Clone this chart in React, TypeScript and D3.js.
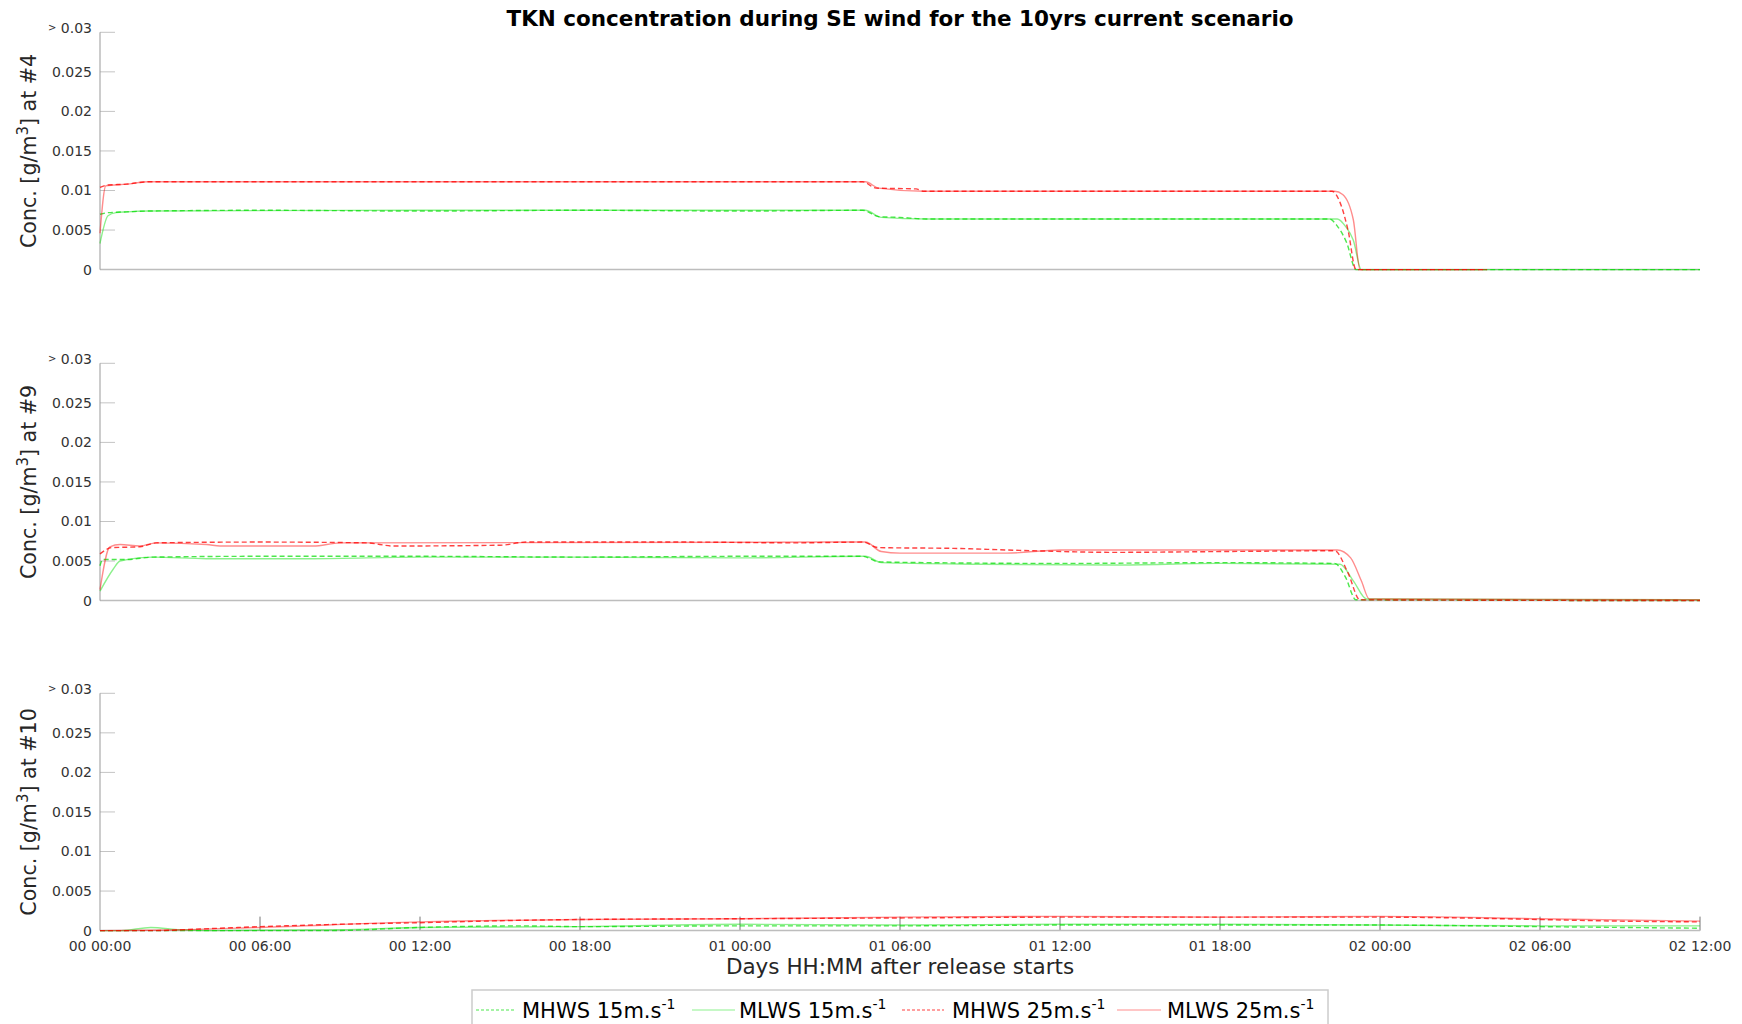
import { useEffect, useRef } from 'react';
import * as d3 from 'd3';

type Pt = [number, number]; // [hours after release, concentration g/m3]

// station labels for the three panels
const stations = ['#4', '#9', '#10'];

// series names + superscript wind speed unit
const seriesNames = ['MHWS 15m.s', 'MLWS 15m.s', 'MHWS 25m.s', 'MLWS 25m.s'];

const xTickHours = [0, 6, 12, 18, 24, 30, 36, 42, 48, 54, 60];
const xTickLabels = ['00 00:00', '00 06:00', '00 12:00', '00 18:00', '01 00:00', '01 06:00', '01 12:00', '01 18:00', '02 00:00', '02 06:00', '02 12:00'];
const yTicks = [0, 0.005, 0.01, 0.015, 0.02, 0.025, 0.03];
const yTickLabels = ['0', '0.005', '0.01', '0.015', '0.02', '0.025', '0.03'];

// ---- station #4 ----
const s4_mhws15: Pt[] = [[0, 0.0070], [0.3, 0.0072], [1, 0.0073], [1.8, 0.0074], [6, 0.0075], [12, 0.0074], [18, 0.0075], [24, 0.0074], [28.6, 0.0075], [29.2, 0.0067], [30, 0.0066], [31, 0.0064], [46.1, 0.0064], [46.4, 0.0055], [46.75, 0.0034], [47.1, 0], [60, 0]];
const s4_mlws15: Pt[] = [[0, 0.0033], [0.3, 0.0068], [0.6, 0.0072], [1, 0.0073], [1.8, 0.0074], [12, 0.0075], [28.7, 0.0075], [29.3, 0.0066], [31, 0.0064], [46.4, 0.0064], [46.7, 0.0055], [47.0, 0.0037], [47.3, 0], [60, 0]];
const s4_mhws25: Pt[] = [[0, 0.0104], [0.3, 0.0107], [1, 0.0108], [1.8, 0.0111], [12, 0.0111], [28.6, 0.0111], [29.1, 0.0103], [30.6, 0.0102], [30.9, 0.0099], [46.2, 0.0099], [46.5, 0.0085], [46.8, 0.005], [47.1, 0], [52, 0]];
const s4_mlws25: Pt[] = [[0, 0.0046], [0.22, 0.0106], [1, 0.0108], [1.8, 0.0111], [28.7, 0.0111], [29.2, 0.0103], [30.9, 0.0099], [46.3, 0.0099], [46.6, 0.0095], [47, 0.0063], [47.25, 0], [52, 0]];

// ---- station #9 ----
const s9_mhws15: Pt[] = [[0, 0.0044], [0.1, 0.0052], [1, 0.0052], [2, 0.0055], [6, 0.0056], [12, 0.0056], [18, 0.0055], [24, 0.0056], [28.6, 0.0056], [29.2, 0.0049], [31, 0.0048], [36, 0.0047], [42, 0.0048], [46.3, 0.0047], [46.7, 0.0030], [47.1, 0.0001], [60, 0]];
const s9_mlws15: Pt[] = [[0, 0.0012], [0.5, 0.004], [0.75, 0.005], [2, 0.0055], [4, 0.0053], [8, 0.0053], [12, 0.0055], [18, 0.0055], [24, 0.0054], [28.7, 0.0056], [29.3, 0.0048], [33, 0.0046], [38, 0.0045], [42, 0.0047], [46.5, 0.0046], [47, 0.0025], [47.5, 0.0002], [60, 0.0001]];
const s9_mhws25: Pt[] = [[0, 0.0059], [0.45, 0.0067], [1.5, 0.0068], [2.1, 0.0073], [6, 0.0074], [10, 0.0073], [11, 0.0069], [15, 0.0070], [16, 0.0074], [22, 0.0074], [26, 0.0073], [28.6, 0.0074], [29.2, 0.0067], [32, 0.0066], [35, 0.0063], [38, 0.0061], [42, 0.0062], [46.3, 0.0063], [46.8, 0.0035], [47.25, 0.0001], [60, 0]];
const s9_mlws25: Pt[] = [[0, 0.0014], [0.37, 0.0068], [0.75, 0.0071], [1.5, 0.0069], [2.1, 0.0073], [4, 0.0071], [4.5, 0.0069], [8, 0.0069], [9, 0.0073], [28.7, 0.0074], [29.3, 0.0062], [30, 0.006], [34, 0.006], [36, 0.0064], [46.4, 0.0064], [46.9, 0.0054], [47.3, 0.0025], [47.6, 0.0002], [60, 0.0001]];

// ---- station #10 ----
const s10_mhws15: Pt[] = [[0, 0], [8.6, 0], [12, 0.0004], [15.75, 0.0006], [18, 0.0005], [24, 0.0006], [30, 0.0006], [36, 0.0007], [42, 0.0007], [48, 0.0007], [54, 0.0005], [60, 0.0003]];
const s10_mlws15: Pt[] = [[0, 0], [0.8, 0], [1.9, 0.0004], [3, 0.0001], [4, 0], [9, 0.0001], [12, 0.0004], [18, 0.0005], [24, 0.0008], [30, 0.0007], [36, 0.0008], [42, 0.0008], [48, 0.0007], [54, 0.0006], [60, 0.0006]];
const s10_mhws25: Pt[] = [[0, 0], [2, 0], [3.75, 0.0002], [6, 0.0005], [9, 0.0008], [12, 0.001], [15.75, 0.0013], [18, 0.0014], [24, 0.0015], [30, 0.0016], [36, 0.0017], [42, 0.0017], [48, 0.0017], [51, 0.0016], [54, 0.0014], [57, 0.0012], [60, 0.0011]];
const s10_mlws25: Pt[] = [[0, 0], [3, 0.0001], [6, 0.0004], [12, 0.0011], [18, 0.0014], [24, 0.0015], [30, 0.0017], [36, 0.0018], [42, 0.0017], [48, 0.0018], [54, 0.0015], [60, 0.0012]];

const panels: Pt[][][] = [
  [s4_mhws15, s4_mlws15, s4_mhws25, s4_mlws25],
  [s9_mhws15, s9_mlws15, s9_mhws25, s9_mlws25],
  [s10_mhws15, s10_mlws15, s10_mhws25, s10_mlws25],
];

const styles = [
  { color: '#00dd00', opacity: 0.7, dash: '5,3' },
  { color: '#00dd00', opacity: 0.45, dash: null },
  { color: '#ff0000', opacity: 0.75, dash: '5,3' },
  { color: '#ff0000', opacity: 0.45, dash: null },
];

const WIDTH = 1742;
const HEIGHT = 1024;
const FONT = 'DejaVu Sans, sans-serif';

const App = () => {
  const svgRef = useRef<SVGSVGElement | null>(null);

  useEffect(() => {
    if (!svgRef.current) return;
    const svg = d3.select(svgRef.current);
    svg.selectAll('*').remove();

    const left = 100;
    const right = 1700;
    const panelTops = [32.3, 363.3, 693.3];
    const panelH = 237.3;

    const x = d3.scaleLinear().domain([0, 60]).range([left, right]);

    // title
    svg.append('text')
      .attr('x', 900)
      .attr('y', 26)
      .attr('text-anchor', 'middle')
      .style('font-family', FONT)
      .style('font-size', '21.5px')
      .style('font-weight', 'bold')
      .style('fill', '#000')
      .text('TKN concentration during SE wind for the 10yrs current scenario');

    panels.forEach((series, pi) => {
      const top = panelTops[pi];
      const y = d3.scaleLinear().domain([0, 0.03]).range([top + panelH, top]);
      const g = svg.append('g');

      // y ticks (inward)
      yTicks.forEach((t, i) => {
        if (t > 0) {
          g.append('line')
            .attr('x1', left).attr('x2', left + 15)
            .attr('y1', y(t)).attr('y2', y(t))
            .attr('stroke', '#c4c4c4').attr('stroke-width', 1);
        }
        const lbl = g.append('text')
          .attr('x', 92)
          .attr('y', y(t))
          .attr('dy', '0.35em')
          .attr('text-anchor', 'end')
          .style('font-family', FONT)
          .style('font-size', '14px')
          .style('fill', '#333');
        if (t === 0.03) {
          lbl.append('tspan').style('font-size', '10px').attr('dy', '-0.1em').text('>');
          lbl.append('tspan').attr('dy', '0.1em').text(' ' + yTickLabels[i]);
        } else {
          lbl.text(yTickLabels[i]);
        }
      });

      // y axis label
      const yl = g.append('text')
        .attr('transform', `translate(36,${top + panelH / 2}) rotate(-90)`)
        .attr('text-anchor', 'middle')
        .style('font-family', FONT)
        .style('font-size', '20.6px')
        .style('fill', '#262626');
      yl.append('tspan').text('Conc. [g/m');
      yl.append('tspan').attr('dy', -8).style('font-size', '15px').text('3');
      yl.append('tspan').attr('dy', 8).text(`] at ${stations[pi]}`);

      // x ticks on bottom panel only
      if (pi === 2) {
        xTickHours.forEach((h, i) => {
          if (h > 0) {
            g.append('line')
              .attr('x1', x(h)).attr('x2', x(h))
              .attr('y1', y(0)).attr('y2', y(0) - 14)
              .attr('stroke', '#777').attr('stroke-width', 1);
          }
          g.append('text')
            .attr('x', x(h))
            .attr('y', y(0) + 20)
            .attr('text-anchor', 'middle')
            .style('font-family', FONT)
            .style('font-size', '14px')
            .style('fill', '#333')
            .text(xTickLabels[i]);
        });
      }

      // axes
      g.append('line')
        .attr('x1', left).attr('x2', right)
        .attr('y1', y(0)).attr('y2', y(0))
        .attr('stroke', '#bdbdbd').attr('stroke-width', 1.5);
      g.append('line')
        .attr('x1', left).attr('x2', left)
        .attr('y1', top).attr('y2', y(0))
        .attr('stroke', '#999').attr('stroke-width', 1);

      const line = d3.line<Pt>()
        .x(d => x(d[0]))
        .y(d => y(d[1]))
        .curve(d3.curveMonotoneX);

      series.forEach((data, si) => {
        const st = styles[si];
        const p = g.append('path')
          .datum(data)
          .attr('fill', 'none')
          .attr('stroke', st.color)
          .attr('stroke-opacity', st.opacity)
          .attr('stroke-width', 1.4)
          .attr('d', line);
        if (st.dash) p.attr('stroke-dasharray', st.dash);
      });
    });

    // x axis label
    svg.append('text')
      .attr('x', 900)
      .attr('y', 974)
      .attr('text-anchor', 'middle')
      .style('font-family', FONT)
      .style('font-size', '21.5px')
      .style('fill', '#262626')
      .text('Days HH:MM after release starts');

    // legend
    const legend = svg.append('g');
    legend.append('rect')
      .attr('x', 472).attr('y', 990)
      .attr('width', 856).attr('height', 60)
      .attr('fill', '#fff')
      .attr('stroke', '#ccc').attr('stroke-width', 1.5);

    const itemX = [[476, 515, 522], [692, 735, 739], [902, 944, 952], [1117, 1161, 1167]];
    seriesNames.forEach((name, i) => {
      const st = styles[i];
      const [x1, x2, tx] = itemX[i];
      const l = legend.append('line')
        .attr('x1', x1).attr('x2', x2)
        .attr('y1', 1010).attr('y2', 1010)
        .attr('stroke', st.color)
        .attr('stroke-opacity', st.opacity)
        .attr('stroke-width', 1.2);
      if (st.dash) l.attr('stroke-dasharray', '3,2');
      const t = legend.append('text')
        .attr('x', tx).attr('y', 1018)
        .style('font-family', FONT)
        .style('font-size', '21px')
        .style('fill', '#000');
      t.append('tspan').text(name);
      t.append('tspan').attr('dy', -9).style('font-size', '14px').text('-1');
    });
  }, []);

  return (
    <svg
      ref={svgRef}
      width={WIDTH}
      height={HEIGHT}
      style={{ position: 'absolute', left: 0, top: 0, background: '#fff' }}
    />
  );
};

export default App;
